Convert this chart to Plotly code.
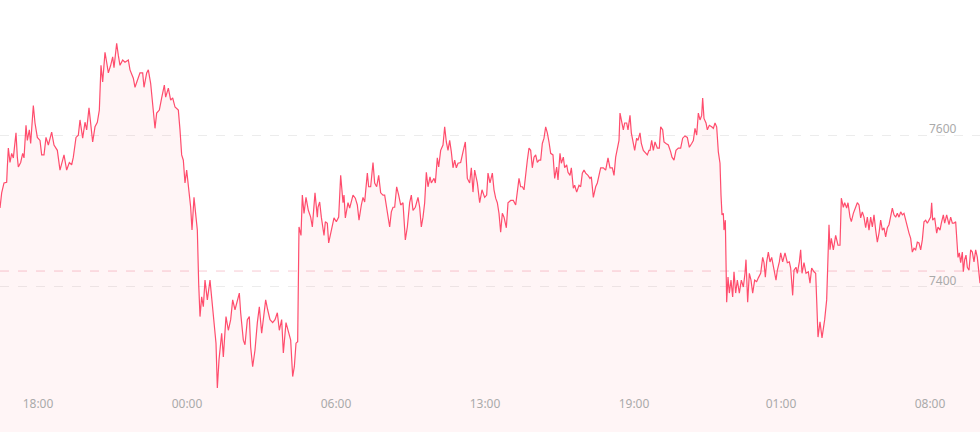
import plotly.graph_objects as go

# sample index (time order) and price
t = [0,5,12,20,22,25,30,35,40,45,48,52,55,62,68,72,78,82,88,92,95,100,105,112,120,125,132,138,145,155,162,172,180,185,192,200,208,215,220,228,235,240,248,255,260,267,272,278,285,292,298,303,308,315,320,325,332,338,342,350,355,360,368,375,385,390,400,405,412,420,428,432,440,445,452,458,465,470,478,485,493,497,505,512,518,525,535,540,545,550,555,560,565,572,576,582,588,592,596,600,605,610,615,622,630,635,642,648,652,657,665,670,678,685,692,698,705,712,718,722,730,735,742,748,752,758,765,772,778,785,790,797,803,810,818,825,832,838,845,850,858,865,872,878,883,888,893,897,903,907,912,918,925,932,937,945,952,
     954,959,964,972,976,982,986,992,996,1002,1009,1016,1022,1029,1032,1036,1044,1049,1059,1066,1072,1077,1084,1089,1094,1102,1106,1112,1119,1124,1130,1136,1142,1149,1154,1159,1164,1169,1174,1179,1184,1190,1196,1202,1209,1216,1222,1229,1234,1239,1246,1254,1259,1264,1269,1274,1279,1284,1290,1294,1302,1306,1312,1316,1322,1329,1334,1339,1344,1349,1354,1359,1364,1369,1374,1382,1389,1396,1402,1409,1414,1419,1424,1432,1439,1446,1454,
     1460,1464,1470,1477,1482,1487,1492,1497,1502,1507,1512,1519,1524,1532,1540,1547,1552,1557,1562,1567,1572,1577,1582,1587,1592,1597,1602,1607,1612,1617,1622,1627,1632,1637,1642,1647,1652,1659,1664,1670,1674,1680,1684,1690,1694,1700,1704,1710,1714,1720,1724,1730,1737,1742,1747,1752,1757,1764,1770,1774,1780,1787,1792,1797,1802,1810,1817,1824,1830,1837,1842,1847,1852,1857,1860,1864,1870,1874,1880,1884,1890,1894,1900,1904,1910,1914,1920,1924,1930,1934,1942,1947,
     1950,1955,1960,1965,1972,1978,1982,1988,1992,1998,2005,2012,2016,2022,2028,2035,2042,2048,2055,2062,2068,2075,2080,2085,2090,2095,2100,2105,2108,2112,2118,2122,2128,2135,2140,2145,2150,2155,2160,2163,2166,2170,2172,2176,2180,2184,2188,2193,2198,2202,2207,2212,2218,2224,2230,2235,2238,2243,2248,2253,2258,2264,2270,2275,2282,2288,2292,2296,2300,2305,2310,2315,2322,2328,2332,2338,2342,2348,2355,2362,2368,2372,2378,2382,2388,2392,2398,2402,2406,2412,2418,2425,2430,2435,2442,
     2447,2450,2454,2460,2466,2474,2480,2487,2490,2494,2500,2507,2514,2520,2524,2530,2534,2540,2544,2550,2554,2560,2567,2572,2577,2582,2587,2592,2597,2602,2607,2612,2617,2622,2627,2632,2637,2642,2647,2652,2657,2662,2667,2672,2677,2682,2687,2692,2697,2702,2707,2712,2720,2727,2732,2737,2742,2747,2752,2757,2762,2767,2772,2777,2782,2787,2792,2795,2798,2804,2810,2814,2820,2824,2830,2834,2840,2847,2852,2857,2862,2867,2870,2874,2878,2882,2887,2890,2894,2898,2902,2907,2912,2917,2922,2927,2932,2937,2940]

price = [7504,7524,7537,7538,7558,7583,7564,7576,7570,7589,7603,7571,7558,7564,7576,7570,7613,7593,7607,7589,7611,7639,7616,7597,7593,7574,7574,7597,7587,7604,7587,7580,7554,7561,7574,7554,7564,7561,7571,7597,7600,7620,7596,7617,7607,7636,7616,7591,7611,7617,7633,7692,7670,7709,7696,7682,7692,7703,7689,7721,7705,7692,7699,7696,7699,7686,7675,7663,7672,7682,7682,7663,7682,7686,7668,7642,7609,7629,7633,7649,7666,7650,7662,7646,7649,7637,7633,7607,7574,7567,7537,7554,7532,7505,7475,7518,7492,7475,7405,7361,7387,7374,7409,7383,7409,7387,7361,7326,7267,7304,7339,7308,7361,7343,7357,7383,7370,7383,7392,7366,7330,7324,7357,7361,7321,7295,7317,7353,7374,7339,7361,7383,7370,7357,7353,7357,7366,7343,7357,7313,7353,7343,7330,7282,7295,7326,7328,7479,7468,7521,7497,7518,7501,7492,7479,7524,7492,
         7505,7512,7492,7468,7486,7484,7458,7471,7482,7491,7486,7492,7547,7511,7521,7491,7511,7504,7521,7517,7508,7488,7508,7518,7512,7550,7532,7532,7564,7537,7532,7547,7524,7521,7521,7505,7495,7479,7499,7505,7505,7532,7521,7508,7511,7462,7479,7511,7521,7501,7505,7518,7505,7479,7492,7511,7551,7532,7545,7537,7543,7537,7570,7558,7580,7587,7611,7591,7580,7593,7578,7557,7567,7557,7563,7564,7578,7591,7543,7537,7557,7525,7554,7537,7511,7528,7518,
         7521,7550,7537,7550,7528,7517,7511,7497,7472,7497,7492,7478,7511,7514,7514,7508,7524,7543,7532,7532,7528,7550,7567,7583,7580,7557,7571,7574,7564,7567,7567,7589,7596,7611,7603,7591,7576,7574,7543,7558,7541,7576,7563,7571,7557,7561,7551,7547,7557,7530,7534,7525,7534,7532,7550,7554,7550,7547,7543,7545,7518,7532,7537,7547,7557,7557,7554,7570,7557,7557,7547,7571,7580,7593,7629,7620,7607,7616,7616,7607,7626,7603,7589,7580,7596,7593,7603,7589,7580,7578,7574,7580,
         7580,7593,7580,7591,7583,7583,7611,7607,7591,7589,7587,7578,7571,7567,7580,7583,7583,7596,7599,7597,7584,7589,7593,7609,7600,7629,7620,7626,7649,7622,7616,7607,7613,7611,7609,7616,7611,7578,7563,7521,7495,7497,7475,7488,7380,7413,7392,7409,7387,7420,7392,7409,7392,7409,7400,7418,7436,7380,7418,7409,7392,7409,7407,7412,7418,7439,7432,7413,7433,7446,7433,7439,7425,7409,7422,7433,7445,7433,7445,7432,7433,7425,7389,7422,7426,7418,7433,7449,7418,7432,7418,7420,7405,7425,7420,
         7418,7383,7334,7354,7333,7357,7383,7482,7449,7464,7449,7468,7455,7455,7517,7505,7511,7504,7511,7492,7486,7497,7504,7511,7508,7491,7499,7492,7478,7492,7475,7492,7479,7495,7475,7459,7471,7488,7475,7478,7466,7478,7482,7492,7504,7495,7492,7497,7492,7499,7495,7497,7482,7471,7464,7446,7451,7449,7459,7458,7449,7462,7486,7488,7484,7488,7492,7511,7488,7491,7471,7479,7475,7484,7495,7484,7495,7482,7492,7484,7484,7486,7466,7439,7445,7432,7446,7420,7436,7442,7426,7422,7449,7446,7433,7449,7439,7420,7405]

tick_idx = [114, 561, 1008, 1455, 1902, 2343, 2790]
tick_text = ["18:00", "00:00", "06:00", "13:00", "19:00", "01:00", "08:00"]
y_ticks = [7400, 7600]
ref_price = 7421
x_min, x_max = 0, 2940
y_min, y_max = 7209, 7778

fig = go.Figure()
fig.add_trace(go.Scatter(
    x=t, y=price, mode="lines",
    line=dict(color="#ff4d6d", width=1.2),
    fill="tozeroy", fillcolor="rgba(255,77,109,0.06)",
    hoverinfo="skip", showlegend=False,
))
# invisible helper trace so the label axes (x2, y2) are drawn
fig.add_trace(go.Scatter(
    x=t[:1], y=price[:1], mode="none", xaxis="x2", yaxis="y2",
    hoverinfo="skip", showlegend=False,
))
fig.add_shape(type="line", xref="paper", x0=0, x1=1, yref="y", y0=ref_price, y1=ref_price,
              line=dict(color="#f7c9d3", width=1, dash="dash"), layer="below")

fig.update_layout(
    width=980, height=432,
    margin=dict(l=0, r=0, t=0, b=0, pad=0),
    paper_bgcolor="white", plot_bgcolor="white",
    font=dict(family="Noto Sans, Roboto, sans-serif", size=12, color="#aaaaaa"),
    xaxis=dict(
        range=[x_min, x_max], showticklabels=False, automargin=False,
        showgrid=False, zeroline=False, showline=False, ticks="",
    ),
    xaxis2=dict(
        range=[x_min, x_max], overlaying="x", anchor="free", position=0.085, side="bottom",
        tickmode="array", tickvals=tick_idx, ticktext=tick_text, automargin=False,
        showgrid=False, zeroline=False, showline=False, ticks="",
        tickfont=dict(size=12, color="#aaaaaa"),
    ),
    yaxis=dict(
        range=[y_min, y_max], side="right", tickmode="array", tickvals=y_ticks,
        showticklabels=False, automargin=False,
        showgrid=True, gridcolor="#ececec", griddash="dash", gridwidth=1,
        zeroline=False, showline=False, ticks="",
    ),
    yaxis2=dict(
        range=[y_min, y_max], overlaying="y", side="left", anchor="free", position=0.98,
        tickmode="array", tickvals=y_ticks,
        ticklabelshift=-6, ticklabelstandoff=4, automargin=False,
        showgrid=False, zeroline=False, showline=False, ticks="",
        tickfont=dict(size=12, color="#aaaaaa"),
    ),
)
fig.write_html(
    "out.html",
    config={"displayModeBar": False},
    post_script="document.body.style.margin='0';document.body.style.overflow='hidden';",
)
